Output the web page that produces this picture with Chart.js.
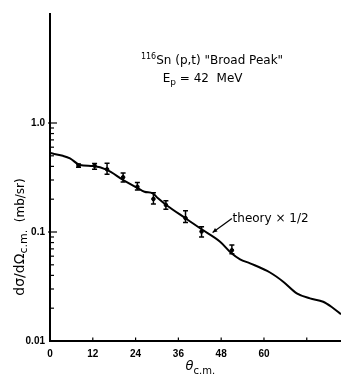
<!DOCTYPE html>
<html><head><meta charset="utf-8">
<script src="https://cdn.jsdelivr.net/npm/chart.js@4.4.0/dist/chart.umd.min.js"></script>
<style>html,body{margin:0;padding:0;background:#fff}#wrap{width:341px;height:375px}</style>
</head><body><div id="wrap"><canvas id="c" width="341" height="375"></canvas></div>
<script>
// Experimental points (θ c.m. in degrees, dσ/dΩ in mb/sr)
const angles  = [8, 12.5, 16, 20.5, 24.5, 29, 32.5, 38, 42.5, 51];
const sigma   = [0.406, 0.406, 0.376, 0.318, 0.260, 0.201, 0.177, 0.134, 0.101, 0.068];
const errLow  = [0.392, 0.376, 0.338, 0.288, 0.243, 0.181, 0.162, 0.122, 0.090, 0.063];
const errHigh = [0.420, 0.426, 0.427, 0.348, 0.284, 0.229, 0.194, 0.157, 0.112, 0.076];
// Theory curve (× 1/2)
const thAngle = [0, 3.6, 5.6, 8.4, 12.1, 16, 20.5, 24.4, 26.5, 28.8, 30.3, 32.6, 38.1, 42.3, 47.7, 50.9, 53.3, 56.1, 61.7, 65.4, 69.2, 72.9, 76.6, 79, 81.6];
const thValue = [0.53, 0.50, 0.474, 0.412, 0.403, 0.371, 0.300, 0.255, 0.234, 0.226, 0.204, 0.177, 0.133, 0.107, 0.0815, 0.0638, 0.0562, 0.0516, 0.0425, 0.035, 0.0274, 0.0246, 0.0229, 0.0205, 0.0176];
// Tick labels
const xTickLabels = [0, 12, 24, 36, 48, 60];
const yTickLabels = {1: "1.0", 0.1: "0.1", 0.01: "0.01"};

const FONT = '"Liberation Sans", Arial, sans-serif';
const AFONT = '"DejaVu Sans", sans-serif';

const decor = {
  id: 'decor',
  afterDatasetsDraw(chart) {
    const ctx = chart.ctx, xs = chart.scales.x, ys = chart.scales.y, ca = chart.chartArea;
    ctx.save();
    ctx.strokeStyle = '#000'; ctx.fillStyle = '#000';
    // error bars
    ctx.lineWidth = 1.5;
    for (let i = 0; i < angles.length; i++) {
      const px = xs.getPixelForValue(angles[i]);
      const y1 = ys.getPixelForValue(errLow[i]), y2 = ys.getPixelForValue(errHigh[i]);
      ctx.beginPath();
      ctx.moveTo(px, y1); ctx.lineTo(px, y2);
      ctx.moveTo(px - 2.5, y1); ctx.lineTo(px + 2.5, y1);
      ctx.moveTo(px - 2.5, y2); ctx.lineTo(px + 2.5, y2);
      ctx.stroke();
    }
    // y inward ticks (only in 0.01–1 decades)
    ctx.lineWidth = 1.2;
    for (let d = -2; d <= 0; d++) {
      for (let k = (d === -2 ? 2 : 1); k <= (d === 0 ? 1 : 9); k++) {
        const v = k * Math.pow(10, d);
        const py = ys.getPixelForValue(v);
        const len = k === 1 ? 7 : 4;
        ctx.beginPath();
        ctx.moveTo(ca.left - (k === 1 ? 2 : 0), py); ctx.lineTo(ca.left + len, py); ctx.stroke();
      }
    }
    // x inward ticks
    for (let t = 12; t <= 72; t += 12) {
      const px = xs.getPixelForValue(t);
      ctx.beginPath(); ctx.moveTo(px, ca.bottom); ctx.lineTo(px, ca.bottom - 3.5); ctx.stroke();
    }
    // annotation text
    ctx.textBaseline = 'alphabetic'; ctx.textAlign = 'left';
    let x0 = xs.getPixelForValue(25.5), yb = ys.getPixelForValue(3.5);
    ctx.font = '8px ' + AFONT; ctx.fillText('116', x0, yb - 5);
    let w = ctx.measureText('116').width;
    ctx.font = '12px ' + AFONT; ctx.fillText('Sn (p,t) "Broad Peak"', x0 + w, yb);
    x0 = xs.getPixelForValue(31.6); yb = ys.getPixelForValue(2.4);
    ctx.fillText('E', x0, yb); w = ctx.measureText('E').width;
    ctx.font = '9px ' + AFONT; ctx.fillText('p', x0 + w, yb + 3);
    const w2 = ctx.measureText('p').width;
    ctx.font = '12px ' + AFONT; ctx.fillText(' = 42  MeV', x0 + w + w2, yb);
    // theory label + arrow
    const tx = xs.getPixelForValue(51.2), ty = ys.getPixelForValue(0.124);
    ctx.fillText('theory × 1/2', tx, ty);
    const ax1 = xs.getPixelForValue(51.0), ay1 = ys.getPixelForValue(0.133);
    const ax2 = xs.getPixelForValue(45.6), ay2 = ys.getPixelForValue(0.099);
    ctx.lineWidth = 1.2;
    ctx.beginPath(); ctx.moveTo(ax1, ay1); ctx.lineTo(ax2, ay2); ctx.stroke();
    const ang = Math.atan2(ay2 - ay1, ax2 - ax1);
    ctx.beginPath();
    ctx.moveTo(ax2, ay2);
    ctx.lineTo(ax2 - 5 * Math.cos(ang - 0.45), ay2 - 5 * Math.sin(ang - 0.45));
    ctx.lineTo(ax2 - 5 * Math.cos(ang + 0.45), ay2 - 5 * Math.sin(ang + 0.45));
    ctx.closePath(); ctx.fill();
    // y axis title (rotated)
    ctx.save();
    ctx.translate(24, 237);
    ctx.rotate(-Math.PI / 2);
    const parts = [['dσ/dΩ', 14, 0], ['c.m.', 11, 3], ['  (mb/sr)', 12, 0]];
    let total = 0;
    parts.forEach(p => { ctx.font = p[1] + 'px ' + AFONT; total += ctx.measureText(p[0]).width; });
    let cx = -total / 2;
    parts.forEach(p => { ctx.font = p[1] + 'px ' + AFONT; ctx.fillText(p[0], cx, p[2]); cx += ctx.measureText(p[0]).width; });
    ctx.restore();
    // x axis title
    const xcx = xs.getPixelForValue(38.0);
    ctx.font = 'italic 13px ' + AFONT;
    ctx.fillText('θ', xcx, 370);
    const tw = ctx.measureText('θ').width;
    ctx.font = '10px ' + AFONT;
    ctx.fillText('c.m.', xcx + tw, 374);
    ctx.restore();
  }
};

new Chart(document.getElementById('c'), {
  type: 'scatter',
  data: {
    datasets: [
      {
        type: 'line',
        data: thAngle.map((a, i) => ({x: a, y: thValue[i]})),
        borderColor: '#000', borderWidth: 2, pointRadius: 0,
        cubicInterpolationMode: 'monotone', fill: false
      },
      {
        data: angles.map((a, i) => ({x: a, y: sigma[i]})),
        backgroundColor: '#000', borderColor: '#000', pointRadius: 1.8
      }
    ]
  },
  options: {
    responsive: false, animation: false, devicePixelRatio: 1,
    layout: {autoPadding: false, padding: {top: 14, right: 0, left: 0, bottom: 0}},
    plugins: {legend: {display: false}, tooltip: {enabled: false}},
    scales: {
      x: {
        type: 'linear', min: 0, max: 81.6,
        grid: {display: false, drawTicks: false},
        border: {display: true, color: '#000', width: 2},
        ticks: {
          stepSize: 12, padding: 7, color: '#000', maxRotation: 0,
          font: {family: FONT, size: 10, weight: 'bold'},
          callback: v => xTickLabels.includes(v) ? String(v) : ''
        },
        afterFit: s => { s.height = 34; s.paddingRight = 0; s.paddingLeft = 0; }
      },
      y: {
        type: 'logarithmic', min: 0.01, max: 10,
        grid: {display: false, drawTicks: false},
        border: {display: true, color: '#000', width: 2},
        ticks: {
          padding: 5, color: '#000', autoSkip: false,
          font: {family: FONT, size: 10, weight: 'bold'},
          callback: v => yTickLabels[v] !== undefined ? yTickLabels[v] : ''
        },
        afterFit: s => { s.width = 50; s.paddingTop = 0; s.paddingBottom = 0; }
      }
    }
  },
  plugins: [decor]
});
</script></body></html>
